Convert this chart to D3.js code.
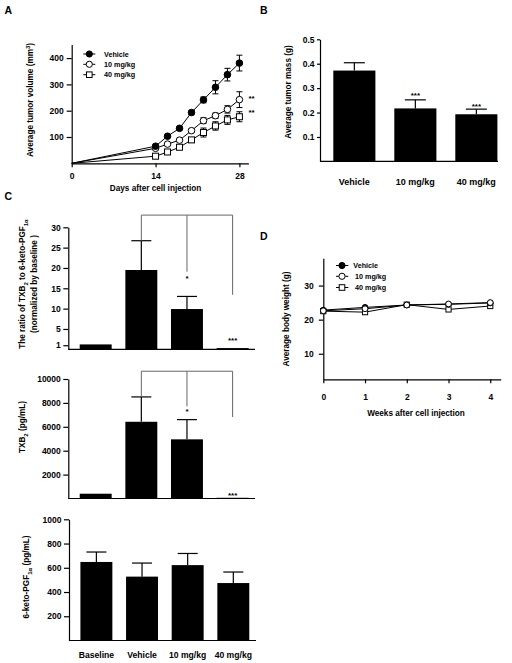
<!DOCTYPE html>
<html><head><meta charset="utf-8">
<script src="https://cdn.jsdelivr.net/npm/d3@7"></script>
<style>
body{margin:0;background:#fff}
svg{display:block;background:#fff}
text{font-family:"Liberation Sans",Arial,sans-serif;font-weight:bold;fill:#000}
</style>
</head><body>
<svg id="c" width="512" height="663"></svg>
<script>
// ---------- DATA ----------
// Panel A: tumor volume (mm^3) vs days
const daysA = [0, 14, 16, 18, 20, 22, 24, 26, 28];
const vehicleA = [0, 65, 103, 133, 193, 241, 289, 337, 381];
const vehicleAErr = [0, 4, 5, 6, 8, 11, 25, 24, 30];
const mg10A = [0, 57, 73, 88, 124, 162, 181, 205, 242];
const mg10AErr = [0, 4, 5, 5, 7, 11, 10, 14, 30];
const mg40A = [0, 27, 43, 61, 89, 117, 142, 165, 177];
const mg40AErr = [0, 3, 4, 5, 8, 17, 16, 17, 19];
const starsA = ["**", "**"];           // for 10 mg/kg and 40 mg/kg at day 28
const starsAAt = [256, 203];           // data-unit height of the stars
const seriesNames = ["Vehicle", "10 mg/kg", "40 mg/kg"];
const ticksAy = [100, 200, 300, 400];
const ticksAx = [0, 14, 28];

// Panel B: tumor mass (g)
const groupsB = ["Vehicle", "10 mg/kg", "40 mg/kg"];
const massB = [0.372, 0.217, 0.193];
const massBErr = [0.032, 0.035, 0.021];
const starsB = ["", "***", "***"];
const starsBAt = [null, 0.279, 0.235];
const ticksB = [0.1, 0.2, 0.3, 0.4, 0.5];

// Panel C
const groupsC = ["Baseline", "Vehicle", "10 mg/kg", "40 mg/kg"];
const ratioC = [1.2, 19.5, 9.9, 0.3];
const ratioCErr = [0, 7.2, 3.1, 0];
const starsRatio = ["", "", "*", "***"];
const starsRatioAt = [null, null, 18.0, 2.7];
const ratioBracketTop = 33.0;
const ratioBracketEnds = [null, 26.7, 19.1, 13.4];
const ticksRatio = [1, 5, 10, 15, 20, 25, 30];

const txb2C = [400, 6420, 4950, 60];
const txb2CErr = [0, 2080, 1650, 0];
const starsTxb2 = ["", "", "*", "***"];
const starsTxb2At = [null, null, 7440, 470];
const txb2BracketTop = 10650;
const txb2BracketEnds = [null, 8500, 7710, 6820];
const ticksTxb2 = [2000, 4000, 6000, 8000, 10000];

const pgfC = [648, 527, 622, 474];
const pgfCErr = [82, 112, 96, 91];
const ticksPgf = [200, 400, 600, 800, 1000];

// Panel D: body weight (g) vs weeks
const weeksD = [0, 1, 2, 3, 4];
const vehicleD = [22.8, 23.6, 24.3, 24.5, 24.9];
const mg10D = [22.6, 23.2, 24.3, 24.6, 25.0];
const mg40D = [22.5, 22.2, 24.4, 23.0, 24.0];
const ticksDy = [10, 20, 30];
const ticksDx = [0, 1, 2, 3, 4];

// ---------- HELPERS ----------
const svg = d3.select("#c");
const SW = 1.2;
const intFmt = d3.format("d");

function yAxis(y, x, ticks, fmt, size, pad, fs) {
  const ax = d3.axisLeft(y).tickValues(ticks).tickSize(size).tickPadding(pad).tickSizeOuter(0)
    .tickFormat(fmt || intFmt);
  const a = svg.append("g").attr("transform", `translate(${x},0)`).call(ax);
  a.attr("font-size", fs).attr("font-family", null);
  a.selectAll("path,line").attr("stroke", "#000").attr("stroke-width", SW);
  return a;
}
function xAxisLine(x0, x1, y) {
  svg.append("line").attr("x1", x0).attr("x2", x1).attr("y1", y).attr("y2", y)
    .attr("stroke", "#000").attr("stroke-width", SW);
}
function vTitle(x, y, parts, fs) {
  const t = svg.append("text").attr("transform", `translate(${x},${y}) rotate(-90)`)
    .attr("text-anchor", "middle").attr("font-size", fs);
  parts.forEach(p => {
    const s = t.append("tspan").text(p.t);
    if (p.dy) s.attr("dy", p.dy);
    if (p.fs) s.attr("font-size", p.fs);
  });
  return t;
}
function marker(g, type, cx, cy, r) {
  if (type === "square") {
    g.append("rect").attr("x", cx - r).attr("y", cy - r).attr("width", 2 * r).attr("height", 2 * r)
      .attr("fill", "#fff").attr("stroke", "#000").attr("stroke-width", 1);
  } else {
    g.append("circle").attr("cx", cx).attr("cy", cy).attr("r", r)
      .attr("fill", type === "filled" ? "#000" : "#fff").attr("stroke", "#000").attr("stroke-width", 1);
  }
}
function starText(x, yCenter, s, fs) {
  svg.append("text").attr("x", x).attr("y", yCenter + fs * 0.6).attr("text-anchor", "middle")
    .attr("font-size", fs).text(s);
}

function barPanel(o) {
  const xb = d3.scaleBand().domain(o.cats).range(o.xr).paddingInner(o.pi).paddingOuter(o.po);
  const y = d3.scaleLinear().domain(o.yd).range(o.yr);
  const g = svg.append("g");
  g.selectAll("rect").data(o.vals).join("rect")
    .attr("x", (d, i) => xb(o.cats[i])).attr("width", xb.bandwidth())
    .attr("y", d => y(d)).attr("height", d => y(0) - y(d)).attr("fill", "#000");
  o.vals.forEach((v, i) => {
    const e = o.errs[i];
    if (!e) return;
    const cx = xb(o.cats[i]) + xb.bandwidth() / 2;
    g.append("line").attr("x1", cx).attr("x2", cx).attr("y1", y(v)).attr("y2", y(v + e))
      .attr("stroke", "#000").attr("stroke-width", SW);
    g.append("line").attr("x1", cx - o.cap / 2).attr("x2", cx + o.cap / 2).attr("y1", y(v + e)).attr("y2", y(v + e))
      .attr("stroke", "#000").attr("stroke-width", SW);
  });
  yAxis(y, o.xr[0], o.ticks, o.fmt, o.ts, o.tp, o.fs);
  xAxisLine(o.xr[0], o.axisEnd, y(0));
  if (o.stars) o.stars.forEach((s, i) => {
    if (!s) return;
    starText(xb(o.cats[i]) + xb.bandwidth() / 2, y(o.starsAt[i]), s, 8);
  });
  if (o.bracketEnds) {
    const idx = o.bracketEnds.map((d, i) => d == null ? null : i).filter(d => d != null);
    const cxs = idx.map(i => xb(o.cats[i]) + xb.bandwidth() / 2);
    const yt = y(o.bracketTop);
    g.append("line").attr("x1", d3.min(cxs)).attr("x2", d3.max(cxs)).attr("y1", yt).attr("y2", yt)
      .attr("stroke", "#666").attr("stroke-width", 1);
    idx.forEach((i, k) => {
      g.append("line").attr("x1", cxs[k]).attr("x2", cxs[k]).attr("y1", yt).attr("y2", y(o.bracketEnds[i]))
        .attr("stroke", "#666").attr("stroke-width", 1);
    });
  }
  if (o.labelsY) {
    o.cats.forEach(c => {
      svg.append("text").attr("x", xb(c) + xb.bandwidth() / 2).attr("y", o.labelsY)
        .attr("text-anchor", "middle").attr("font-size", o.lfs).text(c);
    });
  }
  return { xb, y };
}

// ---------- PANEL LETTERS ----------
[["A", 4.5, 14], ["B", 260, 14], ["C", 4.5, 200], ["D", 260, 240]].forEach(d => {
  svg.append("text").attr("x", d[1]).attr("y", d[2]).attr("font-size", 10.5).text(d[0]);
});

// ---------- PANEL A ----------
{
  const x = d3.scaleLinear().domain([0, 29.5]).range([71.7, 248.4]);
  const y = d3.scaleLinear().domain([0, 452]).range([163.3, 44.4]);
  yAxis(y, 71.7, ticksAy, null, 5, 3, 8.5);
  const ax = d3.axisBottom(x).tickValues(ticksAx).tickFormat(intFmt).tickSize(4).tickPadding(6).tickSizeOuter(0);
  const a = svg.append("g").attr("transform", `translate(0,${y(0)})`).call(ax);
  a.attr("font-size", 8.5).attr("font-family", null);
  a.selectAll("path,line").attr("stroke", "#000").attr("stroke-width", SW);

  const series = [
    { v: mg40A, e: mg40AErr, m: "square" },
    { v: mg10A, e: mg10AErr, m: "open" },
    { v: vehicleA, e: vehicleAErr, m: "filled" }
  ];
  const line = d3.line().x((d, i) => x(daysA[i])).y(d => y(d));
  const g = svg.append("g");
  series.forEach(s => {
    g.append("path").attr("d", line(s.v)).attr("fill", "none").attr("stroke", "#000").attr("stroke-width", 1);
  });
  series.forEach(s => {
    s.v.forEach((v, i) => {
      if (i === 0) return;
      const cx = x(daysA[i]);
      const e = s.e[i];
      g.append("line").attr("x1", cx).attr("x2", cx).attr("y1", y(v - e)).attr("y2", y(v + e)).attr("stroke", "#000").attr("stroke-width", 1);
      [v - e, v + e].forEach(w => g.append("line").attr("x1", cx - 3).attr("x2", cx + 3).attr("y1", y(w)).attr("y2", y(w)).attr("stroke", "#000").attr("stroke-width", 1));
    });
  });
  series.forEach(s => {
    s.v.forEach((v, i) => { if (i > 0) marker(g, s.m, x(daysA[i]), y(v), s.m === "square" ? 3 : 3.3); });
  });
  starsA.forEach((s, i) => {
    svg.append("text").attr("x", x(28) + 9).attr("y", y(starsAAt[i]) + 5).attr("font-size", 8).text(s);
  });
  // legend
  const types = ["filled", "open", "square"];
  const ly = [54, 64.3, 74.7];
  seriesNames.forEach((n, i) => {
    svg.append("line").attr("x1", 83.3).attr("x2", 95.3).attr("y1", ly[i]).attr("y2", ly[i]).attr("stroke", "#000").attr("stroke-width", 1);
    marker(svg, types[i], 89.3, ly[i], types[i] === "square" ? 2.8 : 3.1);
    svg.append("text").attr("x", 104).attr("y", ly[i] + 2.6).attr("font-size", 7.2).text(n);
  });
  svg.append("text").attr("x", x(14)).attr("y", 191).attr("text-anchor", "middle").attr("font-size", 8.2).text("Days after cell injection");
  vTitle(33.3, 100, [{ t: "Average tumor volume (mm" }, { t: "3", dy: -3, fs: 6 }, { t: ")", dy: 3 }], 8.2);
}

// ---------- PANEL B ----------
barPanel({
  cats: groupsB, vals: massB, errs: massBErr, xr: [320, 510.7], pi: 0.31, po: 0.218, axisEnd: 498,
  yd: [0, 0.5], yr: [161.4, 39.3], ticks: ticksB, fmt: d3.format(".1f"), ts: 3, tp: 2.5, fs: 8.5,
  cap: 21, stars: starsB, starsAt: starsBAt, labelsY: 185, lfs: 9
});
vTitle(291, 92, [{ t: "Average tumor mass (g)" }], 8.2);

// ---------- PANEL C ----------
barPanel({
  cats: groupsC, vals: ratioC, errs: ratioCErr, xr: [68.3, 260], pi: 0.3, po: 0.25, axisEnd: 255,
  yd: [0, 30], yr: [349.3, 227.3], ticks: ticksRatio, fmt: null, ts: 5, tp: 2.5, fs: 8.5,
  cap: 20, stars: starsRatio, starsAt: starsRatioAt, bracketTop: ratioBracketTop, bracketEnds: ratioBracketEnds
});
vTitle(25, 284, [{ t: "The ratio of TXB" }, { t: "2", dy: 2.5, fs: 6 }, { t: " to 6-keto-PGF", dy: -2.5 }, { t: "1α", dy: 2.5, fs: 6 }], 8.2);
vTitle(36.5, 284, [{ t: "(normalized by baseline )" }], 8.2);

barPanel({
  cats: groupsC, vals: txb2C, errs: txb2CErr, xr: [68.3, 260], pi: 0.3, po: 0.25, axisEnd: 255,
  yd: [0, 10000], yr: [498.5, 379], ticks: ticksTxb2, fmt: null, ts: 5, tp: 2.5, fs: 8.5,
  cap: 20, stars: starsTxb2, starsAt: starsTxb2At, bracketTop: txb2BracketTop, bracketEnds: txb2BracketEnds
});
vTitle(25, 427, [{ t: "TXB" }, { t: "2", dy: 2.5, fs: 6 }, { t: " (pg/mL)", dy: -2.5 }], 8.2);

barPanel({
  cats: groupsC, vals: pgfC, errs: pgfCErr, xr: [69, 260.7], pi: 0.3, po: 0.25, axisEnd: 256,
  yd: [0, 1000], yr: [640.5, 519.3], ticks: ticksPgf, fmt: null, ts: 5, tp: 2.5, fs: 8.5,
  cap: 20, labelsY: 657.5, lfs: 8.6
});
vTitle(29.3, 577, [{ t: "6-keto-PGF" }, { t: "1α", dy: 2.5, fs: 6 }, { t: "  (pg/mL)", dy: -2.5 }], 8.2);

// ---------- PANEL D ----------
{
  const x = d3.scaleLinear().domain([0, 4.25]).range([323.3, 500.7]);
  const y = d3.scaleLinear().domain([2.5, 38]).range([379.3, 258.3]);
  yAxis(y, 323.3, ticksDy, null, 4.5, 5, 8.5);
  const ax = d3.axisBottom(x).tickValues(ticksDx).tickFormat(intFmt).tickSize(4).tickPadding(11).tickSizeOuter(0);
  const a = svg.append("g").attr("transform", `translate(0,${y(2.5)})`).call(ax);
  a.attr("font-size", 8.5).attr("font-family", null);
  a.selectAll("path,line").attr("stroke", "#000").attr("stroke-width", SW);
  const line = d3.line().x((d, i) => x(weeksD[i])).y(d => y(d));
  const series = [
    { v: mg40D, m: "square" },
    { v: vehicleD, m: "filled" },
    { v: mg10D, m: "open" }
  ];
  const g = svg.append("g");
  series.forEach(s => g.append("path").attr("d", line(s.v)).attr("fill", "none").attr("stroke", "#000").attr("stroke-width", 1));
  series.forEach(s => s.v.forEach((v, i) => marker(g, s.m, x(weeksD[i]), y(v), s.m === "square" ? 2.6 : 2.9)));
  const types = ["filled", "open", "square"];
  const ly = [265.5, 276.3, 287.5];
  const lx = [353.3, 355, 355];
  seriesNames.forEach((n, i) => {
    svg.append("line").attr("x1", 336).attr("x2", 348.3).attr("y1", ly[i]).attr("y2", ly[i]).attr("stroke", "#000").attr("stroke-width", 1);
    marker(svg, types[i], 342, ly[i], types[i] === "square" ? 2.8 : 3.1);
    svg.append("text").attr("x", lx[i]).attr("y", ly[i] + 2.6).attr("font-size", 7.2).text(n);
  });
  svg.append("text").attr("x", 416).attr("y", 416).attr("text-anchor", "middle").attr("font-size", 8.2).text("Weeks after cell injection");
  vTitle(289.3, 319, [{ t: "Average body weight (g)" }], 8.2);
}
</script>
</body></html>
